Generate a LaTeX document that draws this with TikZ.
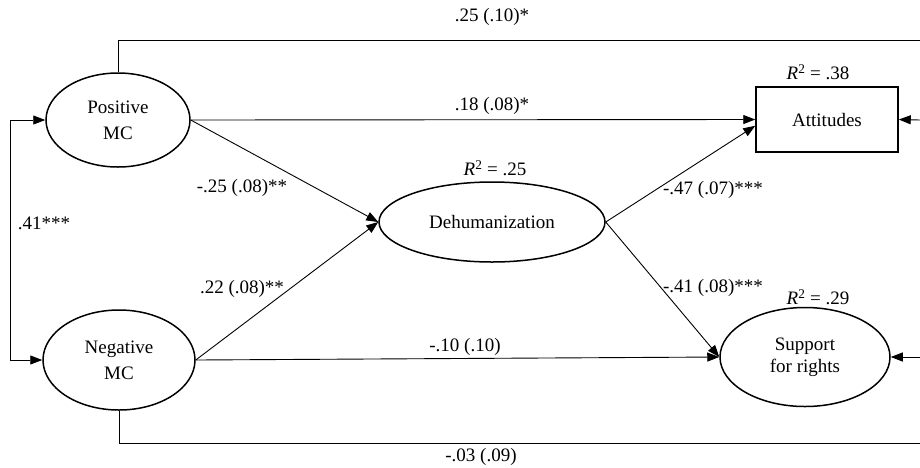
\documentclass[tikz,border=0pt]{standalone}
\usepackage{fontspec}
\setmainfont{Liberation Serif}
\usetikzlibrary{arrows.meta,shapes.geometric}
\begin{document}
\begin{tikzpicture}[x=1pt,y=-1pt,
  font=\fontsize{19}{26}\selectfont,
  latent/.style={draw,ellipse,line width=1.5pt,inner sep=0pt,align=center},
  observed/.style={draw,rectangle,line width=1.5pt,inner sep=0pt,align=center},
  path/.style={line width=0.9pt,-{Triangle[length=12pt,width=9pt]}},
  plain/.style={line width=0.9pt},
  lbl/.style={inner sep=0pt,anchor=center}]
\useasboundingbox (0,0) rectangle (920,467);
% nodes
\node[latent,minimum width=144pt,minimum height=94pt] (pos) at (118,120) {Positive\\MC};
\node[latent,minimum width=152pt,minimum height=100pt] (neg) at (119,360) {Negative\\MC};
\node[latent,minimum width=226pt,minimum height=80pt] (deh) at (492,222) {Dehumanization};
\node[observed,minimum width=142pt,minimum height=65pt] (att) at (827,119.5) {Attitudes};
\node[latent,minimum width=170pt,minimum height=99pt] (sup) at (805,357) {Support\\[-4pt]for rights};
% edge coordinates
\coordinate (topR) at (920,40);
\coordinate (botR) at (920,443);
\coordinate (inA) at (920,120);
\coordinate (inS) at (920,357);
\coordinate (L) at (10,240);
% connectors
\draw[plain] (pos.north) |- (topR);
\draw[plain] (neg.south) |- (botR);
\draw[path] (inA) -- (att.east);
\draw[path] (inS) -- (sup.east);
\draw[path] (L) |- (pos.west);
\draw[path] (L) |- (neg.west);
\draw[path] (pos.east) -- (att.west);
\draw[path] (pos.east) -- (deh.west);
\draw[path] (neg.east) -- (deh.west);
\draw[path] (neg.east) -- (sup.west);
\draw[path] (deh.east) -- (att.185);
\draw[path] (deh.east) -- (sup.west);
% labels
\node[lbl] (l1) at (492,17) {.25 (.10)*};
\node[lbl] (l2) at (492,106) {.18 (.08)*};
\node[lbl] (l3) at (242,188) {-.25 (.08)**};
\node[lbl] (l4) at (44,223) {.41***};
\node[lbl] (l5) at (242,289) {.22 (.08)**};
\node[lbl] (l6) at (713,190) {-.47 (.07)***};
\node[lbl] (l7) at (713,288) {-.41 (.08)***};
\node[lbl] (l8) at (465,347) {-.10 (.10)};
\node[lbl] (l9) at (481,457) {-.03 (.09)};
\node[lbl] (r1) at (818,72) {\textit{R}\textsuperscript{2} = .38};
\node[lbl] (r2) at (495,168) {\textit{R}\textsuperscript{2} = .25};
\node[lbl] (r3) at (818,297) {\textit{R}\textsuperscript{2} = .29};
\end{tikzpicture}
\end{document}
